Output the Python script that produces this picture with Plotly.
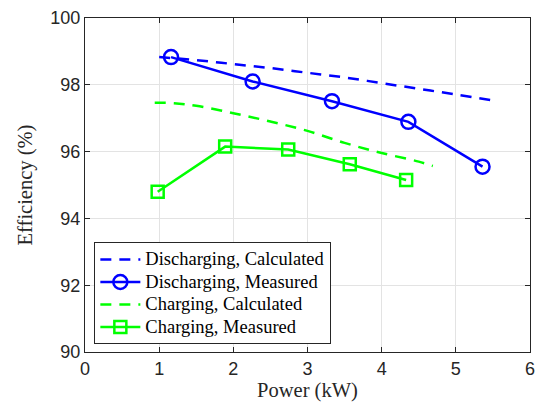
import plotly.graph_objects as go

# Discharging, calculated (dashed blue)
dis_calc_x = [1.0, 1.5, 2.0, 2.5, 3.0, 3.5, 4.0, 4.5, 5.0, 5.5]
dis_calc_y = [98.83, 98.74, 98.62, 98.50, 98.36, 98.22, 98.05, 97.88, 97.71, 97.53]

# Discharging, measured (blue circles)
dis_meas_x = [1.16, 2.26, 3.33, 4.36, 5.36]
dis_meas_y = [98.83, 98.10, 97.51, 96.89, 95.55]

# Charging, calculated (dashed green)
chg_calc_x = [0.94, 1.2, 1.5, 2.0, 2.5, 3.0, 3.5, 4.0, 4.5, 4.69]
chg_calc_y = [97.46, 97.45, 97.37, 97.15, 96.90, 96.62, 96.26, 95.96, 95.70, 95.57]

# Charging, measured (green squares)
chg_meas_x = [0.98, 1.89, 2.74, 3.57, 4.33]
chg_meas_y = [94.80, 96.15, 96.06, 95.62, 95.15]

series_names = ["Discharging, Calculated", "Discharging, Measured",
                "Charging, Calculated", "Charging, Measured"]

x_ticks = [0, 1, 2, 3, 4, 5, 6]
y_ticks = [90, 92, 94, 96, 98, 100]

BLUE = "#0000ff"
GREEN = "#00ff00"
SERIF = "Liberation Serif"
SANS = "Liberation Sans"
DARK = "#262626"


def lg(name):
    return '<span style="font-size:18.5px">' + name + '</span>'


fig = go.Figure()
fig.add_trace(go.Scatter(x=dis_calc_x, y=dis_calc_y, mode="lines",
                         line=dict(color=BLUE, width=2.5, dash="11px,8px", shape="spline"),
                         name=lg(series_names[0])))
fig.add_trace(go.Scatter(x=dis_meas_x, y=dis_meas_y, mode="lines+markers",
                         line=dict(color=BLUE, width=2.5),
                         marker=dict(symbol="circle-open", size=14, color=BLUE,
                                     line=dict(width=2.5, color=BLUE)),
                         name=lg(series_names[1])))
fig.add_trace(go.Scatter(x=chg_calc_x, y=chg_calc_y, mode="lines",
                         line=dict(color=GREEN, width=2.5, dash="11px,8px", shape="spline"),
                         name=lg(series_names[2])))
fig.add_trace(go.Scatter(x=chg_meas_x, y=chg_meas_y, mode="lines+markers",
                         line=dict(color=GREEN, width=2.5),
                         marker=dict(symbol="square-open", size=12, color=GREEN,
                                     line=dict(width=2.5, color=GREEN)),
                         name=lg(series_names[3])))

axis_common = dict(
    showgrid=True, gridcolor="#e3e3e3", gridwidth=1,
    showline=True, linecolor=DARK, linewidth=1, mirror="ticks",
    ticks="inside", ticklen=5, tickwidth=1, tickcolor=DARK,
    zeroline=False, ticklabeloverflow="allow", automargin=False,
    tickfont=dict(family=SANS, size=18, color=DARK),
)

# page body has an 8px margin, so the figure is shifted by 8px
fig.update_layout(
    width=539, height=402,
    margin=dict(l=77, r=17, t=10, b=58, autoexpand=False),
    paper_bgcolor="white", plot_bgcolor="white",
    xaxis=dict(range=[0, 6], tickvals=x_ticks, **axis_common,
               title=dict(text="Power (kW)", font=dict(family=SERIF, size=20.5, color=DARK),
                          standoff=4)),
    yaxis=dict(range=[90, 100], tickvals=y_ticks, **axis_common,
               title=dict(text="Efficiency (%)", font=dict(family=SERIF, size=20.5, color=DARK),
                          standoff=12)),
    legend=dict(x=0.021, y=0.3286, xanchor="left", yanchor="top",
                bgcolor="white", bordercolor=DARK, borderwidth=1,
                font=dict(family=SERIF, size=15, color="#000000"),
                itemwidth=40, tracegroupgap=0),
    showlegend=True,
)

fig.write_html("out.html")
